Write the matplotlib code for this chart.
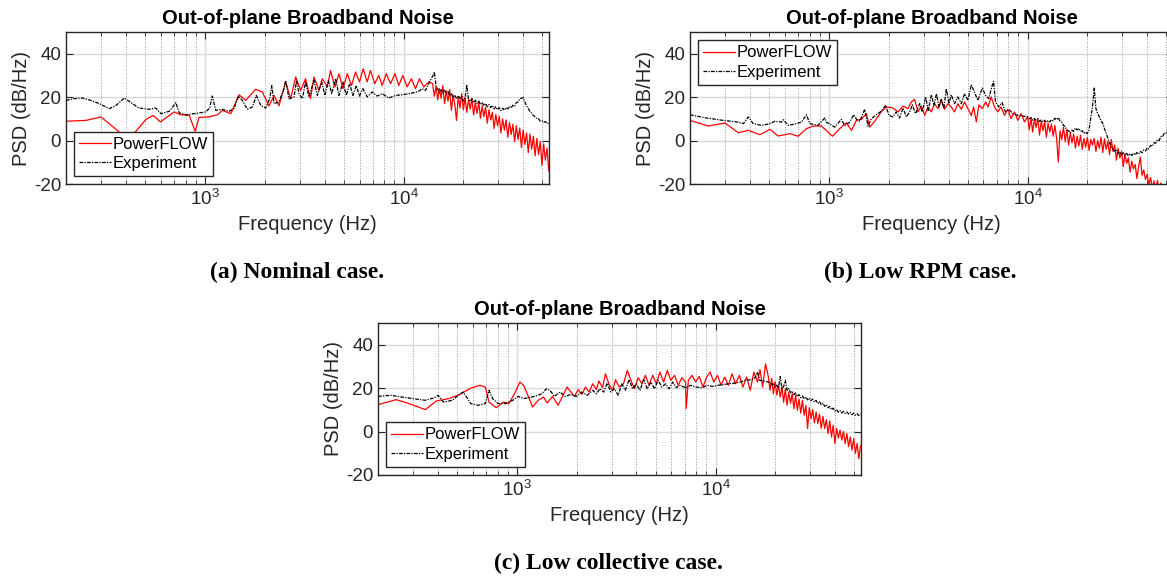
import matplotlib
matplotlib.use("Agg")
import matplotlib.pyplot as plt
from matplotlib.ticker import LogLocator, NullFormatter

plt.rcParams['font.family'] = ['Liberation Sans', 'DejaVu Sans']
plt.rcParams['axes.unicode_minus'] = False

# (a) Nominal case -- low/mid band
a_pf_f = [200, 252, 300, 357, 393, 424, 450, 505, 549, 597, 700, 756, 834, 893, 935, 1050, 1157, 1225, 1350,
          1486, 1605, 1798, 1947, 2100, 2230, 2360, 2550, 2700, 2865, 3035, 3210, 3400, 3540, 3750, 3900, 4130,
          4290, 4510, 4730, 4955, 5210, 5470, 5730, 6000, 6260, 6560, 6810, 7160, 7500, 7806, 8180, 8600, 9040,
          9467, 9910, 10420, 10950, 11480, 12020, 12640, 13390]
a_pf_db = [8.9, 9.3, 10.9, 5.2, 2.0, 1.5, 4.3, 9.8, 11.6, 8.6, 13.2, 11.9, 11.6, 4.3, 10.7, 10.9, 11.9, 13.9, 12.4,
           21.1, 18.5, 23.6, 22.4, 15.9, 20.8, 16.0, 27.0, 19.3, 29.3, 23.1, 28.5, 19.3, 29.3, 23.1, 28.5, 24.7,
           32.3, 24.7, 30.8, 23.9, 30.8, 25.4, 31.6, 27.0, 33.1, 27.0, 32.3, 26.2, 30.0, 25.4, 30.8, 26.2, 30.8,
           25.4, 30.0, 24.7, 28.5, 23.9, 28.5, 24.7, 27.0]
a_ex_f = [200, 219, 242, 267, 294, 330, 357, 393, 432, 466, 524, 566, 600, 662, 714, 742, 801, 900, 1010, 1057,
          1090, 1134, 1225, 1324, 1402, 1474, 1543, 1637, 1734, 1815, 1910, 2023, 2120, 2170, 2230, 2360, 2500,
          2550, 2650, 2810, 2890, 2976, 3095, 3210, 3340, 3540, 3680, 3870, 4020, 4180, 4345, 4550, 4730, 4955,
          5150, 5350, 5560, 5780, 6000, 6240, 6560, 6950, 7360, 7806, 8430, 9110, 9840, 10620, 11260, 11920,
          12390, 12880, 13390, 13920]
a_ex_db = [18.5, 19.3, 19.6, 18.5, 17.0, 14.7, 16.2, 19.6, 17.0, 15.0, 14.4, 15.0, 12.4, 13.5, 17.5, 12.8, 11.9,
           12.5, 13.2, 15.0, 20.5, 13.9, 14.4, 13.5, 14.7, 20.5, 18.5, 14.4, 15.5, 20.8, 16.2, 15.0, 19.3, 25.4,
           17.0, 17.8, 23.9, 27.7, 19.3, 20.1, 27.7, 21.6, 19.3, 27.0, 20.1, 27.7, 20.8, 27.0, 20.8, 27.7, 21.6,
           28.5, 20.8, 27.0, 20.8, 26.2, 20.8, 25.4, 20.5, 23.9, 20.1, 22.4, 20.5, 21.6, 19.6, 20.8, 21.1, 21.6,
           22.1, 22.7, 23.9, 23.1, 26.2, 29.3]
# (a) high band, shared frequencies
a_hf_f = [14000, 14280, 14566, 14857, 15154, 15457, 15766, 16082, 16403, 16731, 17066, 17407, 17756, 18111,
          18473, 18842, 19219, 19604, 19996, 20396, 20804, 21220, 21644, 22077, 22519, 22969, 23428, 23897,
          24375, 24862, 25360, 25867, 26384, 26912, 27450, 27999, 28559, 29130, 29713, 30307, 30913, 31532,
          32162, 32805, 33462, 34131, 34814, 35510, 36220, 36944, 37683, 38437, 39206, 39990, 40790, 41606,
          42438, 43287, 44152, 45035, 45936, 46855, 47792, 48748, 49723, 50717, 51732, 52766, 53822]
a_hf_pf_db = [26.2, 20.5, 25.0, 18.8, 24.0, 19.5, 25.3, 17.0, 22.8, 18.2, 23.5, 13.9, 21.0, 16.5,
              9.3, 20.4, 15.0, 21.6, 14.2, 19.8, 13.0, 18.9, 14.5, 19.5, 11.8, 17.6, 12.5, 18.0,
              10.2, 16.0, 11.0, 15.4, 8.0, 14.2, 9.5, 13.0, 5.5, 12.0, 6.8, 11.2, 3.5, 10.0,
              4.8, 9.5, 1.5, 8.4, 2.8, 7.5, -0.5, 6.8, 0.5, 5.8, -3.2, 4.8, -1.8, 3.5,
              -5.5, 3.0, -4.0, 2.0, -7.0, 1.0, -6.5, -0.5, -11.4, -1.5, -9.0, -3.5, -14.0]
a_hf_ex_db = [29.5, 31.6, 25.4, 23.8, 22.0, 23.4, 22.0, 23.2, 21.5, 22.6, 20.8, 21.8, 19.8, 20.9,
              19.3, 20.6, 19.5, 20.4, 18.2, 19.6, 25.7, 19.0, 18.0, 19.2, 17.5, 18.6, 17.2, 18.2,
              16.6, 17.6, 16.0, 17.1, 15.6, 16.6, 15.2, 16.2, 14.6, 15.6, 14.2, 15.2, 13.8, 14.9,
              14.0, 15.2, 14.6, 15.8, 15.0, 16.3, 15.8, 17.5, 17.8, 19.3, 19.5, 19.8, 17.8, 16.0,
              14.8, 13.4, 12.6, 11.5, 11.0, 10.0, 10.0, 9.0, 9.2, 8.4, 8.8, 7.8, 8.2]

# (b) Low RPM case -- low/mid band
b_pf_f = [200, 247, 300, 350, 393, 450, 505, 555, 636, 700, 771, 834, 917, 1042, 1134, 1225, 1298, 1376, 1457,
          1543, 1605, 1700, 1833, 1947, 2100, 2230, 2360, 2500, 2600, 2700, 2810, 2920, 3035, 3150, 3280, 3400,
          3540, 3680, 3820, 3970, 4130, 4290, 4460, 4640, 4820, 5010, 5210, 5350, 5520, 5690, 5920, 6150, 6320,
          6560, 6810, 7080, 7360, 7650, 7950, 8260, 8600, 8930, 9290, 9650]
b_pf_db = [9.3, 6.7, 8.1, 3.6, 4.7, 2.7, 5.2, 2.1, 3.2, 2.0, 5.5, 6.7, 6.7, 2.0, 5.5, 8.2, 4.7, 9.3, 9.8,
           12.4, 6.2, 8.9, 13.2, 15.5, 15.0, 13.2, 15.9, 14.7, 17.8, 19.0, 13.2, 15.9, 11.6, 15.5, 13.2, 17.0,
           14.7, 18.5, 14.4, 17.0, 15.5, 13.2, 17.0, 14.4, 17.8, 14.7, 11.6, 15.5, 8.6, 16.5, 14.7, 17.8, 15.5,
           20.1, 15.5, 13.2, 15.5, 11.6, 14.4, 10.1, 13.2, 9.3, 12.4, 8.6]
b_ex_f = [200, 242, 294, 350, 371, 393, 416, 458, 505, 535, 578, 589, 624, 687, 727, 771, 801, 882, 953, 971,
          1071, 1155, 1200, 1272, 1334, 1376, 1430, 1515, 1573, 1637, 1734, 1833, 1930, 2006, 2100, 2180, 2270,
          2360, 2454, 2550, 2630, 2730, 2865, 2950, 3070, 3160, 3280, 3380, 3480, 3580, 3680, 3790, 3900, 4020,
          4130, 4290, 4460, 4640, 4820, 5010, 5210, 5400, 5620, 5920, 6150, 6390, 6560, 6740, 6900, 7160, 7440,
          7740, 8040, 8430, 8930, 9467]
b_ex_db = [11.9, 10.4, 9.3, 8.5, 7.8, 10.9, 7.8, 7.0, 7.8, 8.9, 8.5, 9.6, 7.0, 7.8, 8.5, 11.9, 7.8, 7.0, 10.4, 8.5,
           6.2, 9.8, 7.0, 8.5, 11.9, 9.8, 8.9, 14.4, 6.7, 10.1, 11.9, 13.5, 16.2, 11.6, 10.9, 13.2, 10.4,
           15.0, 10.9, 13.2, 16.5, 12.4, 17.0, 13.2, 20.1, 13.9, 21.1, 16.2, 21.6, 15.5, 19.3, 14.7, 23.9, 17.0,
           21.1, 17.0, 20.1, 17.0, 21.6, 18.5, 25.7, 22.4, 18.5, 24.2, 20.8, 19.3, 23.9, 27.3, 17.8, 15.5, 17.5,
           13.2, 14.4, 12.4, 11.6, 11.3]
# (b) high band, shared frequencies
b_hf_f = [10000, 10200, 10404, 10612, 10824, 11041, 11262, 11487, 11717, 11951, 12190, 12434, 12682, 12936,
          13195, 13459, 13728, 14002, 14282, 14568, 14859, 15157, 15460, 15769, 16084, 16406, 16734, 17069,
          17410, 17758, 18114, 18476, 18845, 19222, 19607, 19999, 20399, 20807, 21223, 21647, 22080, 22522,
          22972, 23432, 23901, 24379, 24866, 25363, 25871, 26388, 26916, 27454, 28003, 28563, 29135, 29717,
          30312, 30918, 31536, 32167, 32810, 33467, 34136, 34819, 35515, 36225, 36950, 37689, 38443, 39211,
          39996, 40796, 41612, 42444, 43293, 44159, 45042, 45943, 46862, 47799, 48755, 49730, 50725, 51739,
          52774, 53830]
b_hf_pf_db = [11.0, 5.0, 10.5, 3.9, 9.8, 6.0, 10.2, 2.5, 9.0, 4.5, 8.8, 1.5, 8.0, 4.0,
              7.6, 2.0, 7.0, 1.0, -9.9, 4.5, 0.5, 6.2, -0.5, 5.0, -2.0, 3.5, -1.0, 3.0,
              -3.5, 2.0, -2.5, 2.5, -4.0, 1.0, -3.0, 1.5, -4.5, 0.5, -2.0, 1.0, -5.0, 0.0,
              -3.5, 1.5, -5.5, 0.8, -4.0, -0.5, -6.5, 0.5, -5.0, -2.0, -9.0, -3.5, -8.0, -5.0,
              -12.0, -6.0, -10.5, -8.0, -14.5, -9.5, -13.0, -11.0, -17.5, -12.0, -7.6, -16.0, -13.5, -18.0,
              -15.5, -20.5, -17.0, -22.0, -18.5, -22.5, -18.3, -23.0, -19.5, -24.0, -21.0, -25.0, -22.0, -26.0,
              -23.0, -27.0]
b_hf_ex_db = [10.9, 10.0, 10.6, 9.4, 10.2, 9.2, 9.9, 8.8, 9.5, 8.6, 9.4, 8.4, 9.3, 8.6,
              9.6, 9.0, 10.3, 9.6, 10.6, 9.0, 8.6, 7.0, 6.5, 4.8, 4.5, 3.5, 4.8, 4.2,
              5.8, 4.9, 5.6, 4.3, 4.5, 3.3, 4.0, 3.2, 5.0, 10.5, 15.5, 24.2, 14.7, 12.5,
              11.0, 9.0, 8.0, 5.5, 3.5, 0.9, -1.0, -3.0, -3.8, -5.0, -4.5, -6.0, -5.2, -6.5,
              -5.6, -6.8, -5.9, -7.0, -6.0, -6.9, -5.8, -6.6, -5.5, -6.2, -5.0, -5.6, -4.3, -4.8,
              -3.4, -3.9, -2.2, -2.6, -1.0, -1.2, 0.4, 0.0, 1.9, 1.7, 3.4, 3.3, 5.0, 5.0,
              6.6, 6.8]

# (c) Low collective case -- low/mid band
c_pf_f = [200, 247, 286, 346, 393, 455, 517, 586, 652, 694, 724, 787, 857, 912, 973, 1036, 1081, 1128, 1200,
          1280, 1362, 1422, 1514, 1613, 1718, 1791, 1870, 1950, 2033, 2124, 2214, 2308, 2410, 2513, 2589, 2698,
          2793, 2911, 3035, 3141, 3274, 3443, 3597, 3750, 3909, 4083, 4257, 4438, 4627, 4830, 5036, 5249, 5483,
          5716, 5958, 6225, 6490, 6764, 7068, 7118, 7298, 7623, 7943, 8281, 8650, 9016, 9399, 9799, 10233,
          10670, 11120, 11610, 12110, 12620, 13180, 13740, 14330, 14960, 15600, 16260, 16750, 17260, 17870,
          18460]
c_pf_db = [12.4, 14.7, 12.9, 10.1, 14.1, 15.2, 17.1, 20.0, 21.3, 20.5, 13.6, 11.0, 13.6, 12.9, 17.4, 22.8, 21.3,
           17.4, 11.3, 14.4, 15.9, 13.2, 16.2, 12.1, 17.1, 20.5, 18.2, 16.2, 19.3, 17.1, 20.5, 18.2, 22.0, 19.3,
           23.3, 20.2, 26.6, 21.7, 19.0, 23.9, 20.5, 22.0, 28.2, 23.6, 19.7, 24.8, 22.0, 25.9, 21.3, 25.9, 22.0,
           27.4, 22.8, 28.2, 23.6, 25.9, 21.3, 24.8, 22.8, 10.6, 23.6, 25.9, 22.8, 25.4, 20.5, 25.1, 27.4, 22.8,
           25.9, 21.3, 25.1, 21.3, 26.6, 22.0, 25.9, 20.5, 25.1, 19.0, 27.4, 22.8, 28.5, 20.5, 31.2,
           25.1]
c_ex_f = [200, 232, 263, 299, 346, 385, 401, 427, 474, 517, 538, 586, 638, 694, 724, 755, 804, 875, 953, 1014,
          1081, 1151, 1227, 1334, 1409, 1469, 1545, 1648, 1754, 1870, 1991, 2124, 2260, 2410, 2513, 2619, 2735,
          2851, 2972, 3099, 3236, 3374, 3516, 3672, 3829, 3991, 4168, 4346, 4530, 4731, 4931, 5140, 5370, 5598,
          5836, 6095, 6354, 6625, 7068, 7516, 8017, 8531, 9099, 9680, 10300, 10990, 11690, 12480, 13270, 14160,
          15070, 15850, 16260, 16680, 17460]
c_ex_db = [16.2, 16.7, 15.9, 15.2, 14.4, 15.6, 16.7, 13.6, 14.4, 17.4, 18.2, 12.9, 12.1, 12.9, 19.0, 15.2, 12.9,
           12.9, 14.4, 16.2, 15.2, 15.6, 16.2, 17.4, 19.7, 19.0, 16.2, 18.2, 16.2, 17.1, 16.2, 18.2, 16.7, 19.0,
           17.4, 19.7, 18.2, 22.3, 18.2, 19.7, 16.7, 22.0, 19.0, 23.9, 19.7, 22.0, 19.0, 23.9, 19.7, 22.8, 19.7,
           23.6, 20.5, 22.0, 19.7, 22.8, 20.2, 21.3, 20.2, 21.3, 20.5, 20.2, 21.3, 20.8, 21.3, 21.7, 22.0, 22.3,
           22.8, 23.6, 23.9, 24.8, 27.4, 23.6, 23.3]
# (c) high band, shared frequencies
c_hf_f = [18800, 19176, 19560, 19951, 20350, 20757, 21172, 21595, 22027, 22468, 22917, 23376, 23843, 24320,
          24806, 25303, 25809, 26325, 26851, 27388, 27936, 28495, 29065, 29646, 30239, 30844, 31461, 32090,
          32732, 33387, 34054, 34735, 35430, 36139, 36862, 37599, 38351, 39118, 39900, 40698, 41512, 42342,
          43189, 44053, 44934, 45833, 46750, 47685, 48638, 49611, 50603, 51615, 52648, 53701]
c_hf_pf_db = [19.0, 24.5, 17.4, 23.0, 16.8, 21.3, 15.9, 20.5, 13.5, 19.7, 12.1, 18.2, 13.0, 17.5,
              10.5, 16.7, 9.8, 15.0, 8.5, 14.4, 7.5, 12.1, 1.4, 11.0, 5.9, 10.2, 4.0, 9.0,
              3.7, 8.0, 1.5, 7.0, 1.4, 5.5, -0.9, 4.9, -2.5, 2.9, -5.5, 1.5, -3.0, 0.7,
              -3.9, 0.0, -5.5, -0.9, -7.0, -2.5, -8.5, -3.2, -10.0, -5.5, -12.5, -6.5]
c_hf_ex_db = [22.6, 21.2, 22.0, 20.6, 21.4, 20.0, 25.4, 19.7, 20.8, 23.6, 19.0, 19.8, 18.0, 18.6,
              17.0, 17.8, 16.2, 17.0, 15.6, 16.4, 15.0, 15.9, 14.6, 15.4, 14.2, 15.0, 13.6, 14.4,
              12.9, 13.8, 12.3, 13.1, 11.6, 12.4, 10.9, 11.6, 10.1, 10.8, 9.4, 10.1, 8.9, 9.6,
              8.6, 9.3, 8.3, 9.0, 8.1, 8.8, 7.8, 8.5, 7.5, 8.2, 7.3, 8.0]

title = "Out-of-plane Broadband Noise"
dark = (0.15, 0.15, 0.15)

fig = plt.figure(figsize=(11.67, 5.77), dpi=100)


def panel(rect, pf_f, pf_db, ex_f, ex_db, loc):
    ax = fig.add_axes(rect)
    ax.plot(pf_f, pf_db, color='red', lw=0.9, label='PowerFLOW')
    ax.plot(ex_f, ex_db, color='black', lw=0.9, ls=(0, (3.0, 1.0, 1.0, 1.0)), label='Experiment')
    ax.set_xscale('log')
    ax.set_xlim(200, 54000)
    ax.set_ylim(-20, 50)
    ax.set_yticks([-20, 0, 20, 40])
    ax.xaxis.set_major_locator(LogLocator(base=10, numticks=10))
    ax.xaxis.set_minor_locator(LogLocator(base=10, subs=range(2, 10), numticks=20))
    ax.xaxis.set_minor_formatter(NullFormatter())
    ax.grid(which='major', color=(0.85, 0.85, 0.85), lw=1.0, ls='-')
    ax.grid(which='minor', axis='x', color=(0.6, 0.6, 0.6), lw=0.7, ls=':')
    ax.set_axisbelow(True)
    ax.tick_params(which='both', direction='in', top=True, right=True, colors=dark, labelsize=13.5)
    ax.tick_params(which='major', length=5, width=0.8)
    ax.tick_params(which='minor', length=3, width=0.6)
    for s in ax.spines.values():
        s.set_color(dark)
        s.set_linewidth(1.0)
    ax.set_title(title, fontsize=14.5, fontweight='bold', pad=6)
    ax.set_xlabel('Frequency (Hz)', fontsize=14.5, color=dark, labelpad=4)
    ax.set_ylabel('PSD (dB/Hz)', fontsize=14.5, color=dark, labelpad=2)
    leg = ax.legend(loc=loc, fontsize=12, handlelength=1.9, handletextpad=0.1, borderpad=0.3,
                    labelspacing=0.25, borderaxespad=0.5, fancybox=False, framealpha=1)
    leg.get_frame().set_edgecolor(dark)
    leg.get_frame().set_linewidth(1.0)
    return ax


panel([0.0566, 0.6811, 0.4139, 0.2634], a_pf_f + a_hf_f, a_pf_db + a_hf_pf_db,
      a_ex_f + a_hf_f, a_ex_db + a_hf_ex_db, 'lower left')
panel([0.5913, 0.6811, 0.4139, 0.2634], b_pf_f + b_hf_f, b_pf_db + b_hf_pf_db,
      b_ex_f + b_hf_f, b_ex_db + b_hf_ex_db, 'upper left')
panel([0.3239, 0.1768, 0.4139, 0.2634], c_pf_f + c_hf_f, c_pf_db + c_hf_pf_db,
      c_ex_f + c_hf_f, c_ex_db + c_hf_ex_db, 'lower left')

cap = dict(fontsize=17, fontweight='bold', family='Liberation Serif', ha='center', va='center')
fig.text(297 / 1167, 1 - 272 / 577, '(a) Nominal case.', **cap)
fig.text(920 / 1167, 1 - 272 / 577, '(b) Low RPM case.', **cap)
fig.text(608 / 1167, 1 - 563 / 577, '(c) Low collective case.', **cap)

fig.savefig('out.png', dpi=100)
